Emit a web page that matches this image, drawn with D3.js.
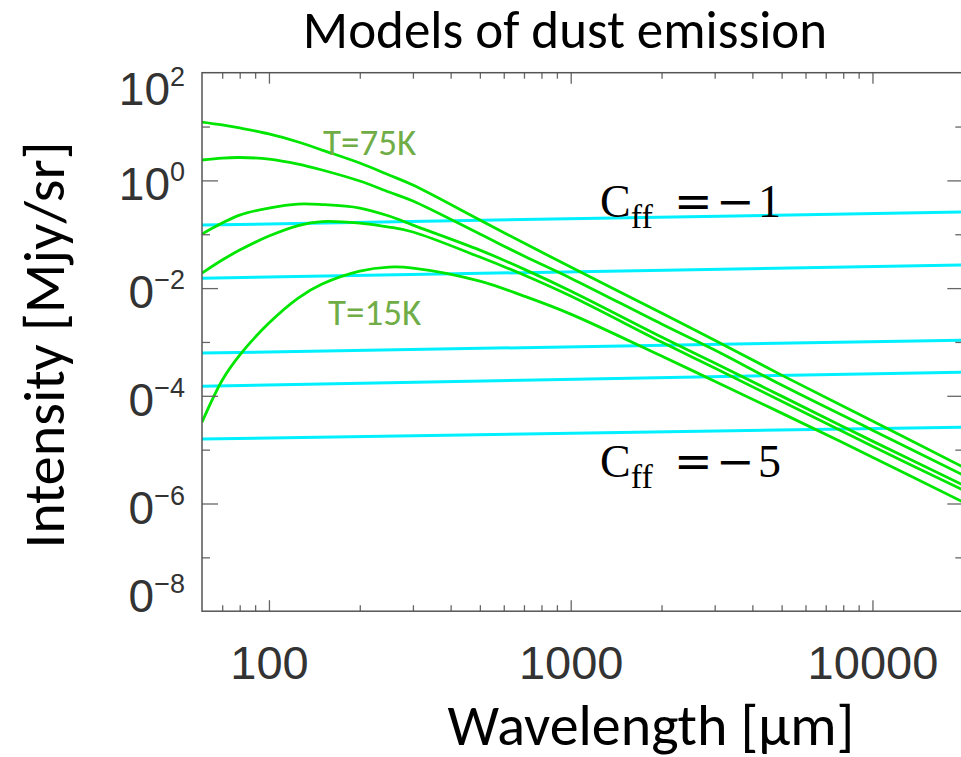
<!DOCTYPE html>
<html lang="en">
<head>
<meta charset="UTF-8"/>
<title>Models of dust emission</title>
<script src="https://d3js.org/d3.v7.min.js"></script>
<style>
	body { margin: 0; background: #fff; }
	.tick line { stroke: #666; stroke-width: 1.3; }
	.numlab text { font-family: "Liberation Sans", Arial, sans-serif; fill: #333; }
	.sans { font-family: Calibri, Carlito, Lato, sans-serif; }
	.math { font-family: "Cambria Math", "Liberation Serif", serif; fill: #000; }
	.op { font-family: "DejaVu Serif", serif; }
	.dust { fill: none; stroke: rgb(0, 230, 0); stroke-width: 2.8; }
	.ff { fill: none; stroke: rgb(0, 240, 255); stroke-width: 3; }
</style>
</head>
<body>
<div id="chart"></div>
<script>
// wavelength grid (micron) of the dust curves
var wavelengths = [60, 70, 80, 100, 125, 150, 200, 250, 300, 500, 700, 1000, 2000, 3000, 5000, 10000, 20000];

// dust intensities in MJy/sr, warmest first
var dust75K = [12.1, 10.7, 9.4, 7.3, 5.16, 3.66, 2.10, 1.26, 0.82, 0.184, 0.0686, 0.0246, 3.44e-3, 1.08e-3, 2.42e-4, 3.39e-5, 4.73e-6];
var dustB   = [2.39, 2.60, 2.66, 2.49, 2.01, 1.56, 0.973, 0.608, 0.414, 0.101, 0.0394, 0.0153, 2.15e-3, 7.06e-4, 1.58e-4, 2.30e-5, 3.36e-6];
var dustC   = [0.101, 0.161, 0.227, 0.307, 0.364, 0.356, 0.307, 0.218, 0.148, 0.0508, 0.0225, 8.81e-3, 1.23e-3, 4.05e-4, 9.86e-5, 1.44e-5, 2.19e-6];
var dustD   = [0.0190, 0.0332, 0.0508, 0.0925, 0.145, 0.172, 0.161, 0.136, 0.110, 0.0377, 0.0175, 7.11e-3, 9.93e-4, 3.27e-4, 7.96e-5, 1.16e-5, 1.77e-6];
var dust15K = [3.24e-5, 1.95e-4, 5.70e-4, 2.24e-3, 6.53e-3, 0.0119, 0.0207, 0.0246, 0.0236, 0.0135, 7.11e-3, 3.29e-3, 5.46e-4, 1.87e-4, 4.77e-5, 7.26e-6, 1.06e-6];

// free-free lines, given at the two ends of the wavelength range
var ffWavelengths = [60, 20000];
var ffMinus1 = [0.148, 0.258];
var ffMinus2 = [0.0153, 0.0268];
var ffMinus3 = [6.21e-4, 1.08e-3];
var ffMinus4 = [1.51e-4, 2.75e-4];
var ffMinus5 = [1.57e-5, 2.62e-5];

// tick labels
var xTickValues = [100, 1000, 10000];
var xTickLabels = ["100", "1000", "10000"];
var yTickValues = [1e2, 1e0, 1e-2, 1e-4, 1e-6, 1e-8];
var yTickBase = ["10", "10", "0", "0", "0", "0"];
var yTickExp = ["2", "0", "\u22122", "\u22124", "\u22126", "\u22128"];

var w = 961, h = 757;
var pLeft = 202, pRight = 963.3, pTop = 72.7, pBottom = 611.2;

var svg = d3.select("#chart").append("svg")
	.attr("width", w)
	.attr("height", h);

var x = d3.scaleLog().domain([60, 20000]).range([pLeft, pRight]);
var y = d3.scaleLog().domain([1e-8, 1e2]).range([pBottom, pTop]);

svg.append("clipPath").attr("id", "plotclip")
	.append("rect")
	.attr("x", pLeft).attr("y", pTop)
	.attr("width", pRight - pLeft).attr("height", pBottom - pTop);

var line = d3.line()
	.x(function(d) { return x(d[0]); })
	.y(function(d) { return y(d[1]); })
	.curve(d3.curveCatmullRom.alpha(0.5));

var plot = svg.append("g").attr("clip-path", "url(#plotclip)");

[ffMinus1, ffMinus2, ffMinus3, ffMinus4, ffMinus5].forEach(function(s) {
	plot.append("path")
		.attr("class", "ff")
		.attr("d", line(d3.zip(ffWavelengths, s)));
});

[dust75K, dustB, dustC, dustD, dust15K].forEach(function(s) {
	plot.append("path")
		.attr("class", "dust")
		.attr("d", line(d3.zip(wavelengths, s)));
});

// minor / major ticks
var xMinor = [];
[10, 100, 1000, 10000].forEach(function(dec) {
	d3.range(2, 10).forEach(function(m) {
		var v = m * dec;
		if (v > 60 && v < 20000) xMinor.push(v);
	});
});
var yEven = [1e0, 1e-2, 1e-4, 1e-6];
var yOdd = [1e1, 1e-1, 1e-3, 1e-5, 1e-7];

function addAxis(axis, tx, ty, cls) {
	var g = svg.append("g")
		.attr("class", cls || "")
		.attr("transform", "translate(" + tx + "," + ty + ")")
		.call(axis);
	g.select(".domain").remove();
	return g;
}

addAxis(d3.axisBottom(x).tickValues(xMinor).tickSize(-6).tickFormat(""), 0, pBottom);
addAxis(d3.axisBottom(x).tickValues(xTickValues).tickSize(-11).tickPadding(34)
	.tickFormat(function(d, i) { return xTickLabels[i]; }), 0, pBottom, "numlab")
	.selectAll("text").attr("font-size", 47);
addAxis(d3.axisTop(x).tickValues(xMinor).tickSize(-6).tickFormat(""), 0, pTop);
addAxis(d3.axisTop(x).tickValues(xTickValues).tickSize(-11).tickFormat(""), 0, pTop);

addAxis(d3.axisLeft(y).tickValues(yEven).tickSize(-16).tickFormat(""), pLeft, 0);
addAxis(d3.axisLeft(y).tickValues(yOdd).tickSize(-8).tickFormat(""), pLeft, 0);
addAxis(d3.axisRight(y).tickValues(yEven).tickSize(-16).tickFormat(""), pRight, 0);
addAxis(d3.axisRight(y).tickValues(yOdd).tickSize(-8).tickFormat(""), pRight, 0);

svg.append("rect")
	.attr("x", pLeft).attr("y", pTop)
	.attr("width", pRight - pLeft).attr("height", pBottom - pTop)
	.attr("fill", "none")
	.attr("stroke", "#555")
	.attr("stroke-width", 1.5);

// y tick labels with superscript exponents
var ylab = svg.append("g").attr("class", "numlab");
yTickValues.forEach(function(v, i) {
	var base = Math.min(Math.max(y(v) + 20, 105), 612);
	var t = ylab.append("text")
		.attr("x", 185)
		.attr("y", base)
		.attr("text-anchor", "end");
	t.append("tspan").attr("font-size", 46).text(yTickBase[i]);
	t.append("tspan").attr("font-size", 27).attr("dy", -19).text(yTickExp[i]);
});

// titles
svg.append("text")
	.attr("class", "sans")
	.attr("x", 565).attr("y", 48)
	.attr("text-anchor", "middle")
	.attr("font-size", 53)
	.text("Models of dust emission");

svg.append("text")
	.attr("class", "sans")
	.attr("x", 651).attr("y", 745)
	.attr("text-anchor", "middle")
	.attr("font-size", 58)
	.text("Wavelength [\u00b5m]");

svg.append("text")
	.attr("class", "sans")
	.attr("transform", "translate(64,345) rotate(-90)")
	.attr("text-anchor", "middle")
	.attr("font-size", 58)
	.text("Intensity [Mjy/sr]");

// temperature labels
svg.append("text").attr("class", "sans")
	.attr("x", 323).attr("y", 155)
	.attr("font-size", 37).attr("fill", "#70AD47")
	.text("T=75K");
svg.append("text").attr("class", "sans")
	.attr("x", 328).attr("y", 325)
	.attr("font-size", 37).attr("fill", "#70AD47")
	.text("T=15K");

// free-free coefficient labels
function cffLabel(x0, baseline, value) {
	var g = svg.append("g").attr("class", "math");
	var t = g.append("text").attr("x", x0).attr("y", baseline).attr("font-size", 46);
	t.append("tspan").text("C");
	t.append("tspan").attr("font-size", 34).attr("dy", 11).text("ff");
	g.append("text").attr("class", "op")
		.attr("x", x0 + 74).attr("y", baseline).attr("font-size", 46).text("=");
	g.append("text").attr("class", "op")
		.attr("x", x0 + 116).attr("y", baseline).attr("font-size", 46).text("\u2212");
	g.append("text")
		.attr("x", x0 + 158).attr("y", baseline).attr("font-size", 46).text(value);
}
cffLabel(600, 217, "1");
cffLabel(600, 477, "5");
</script>
</body>
</html>
